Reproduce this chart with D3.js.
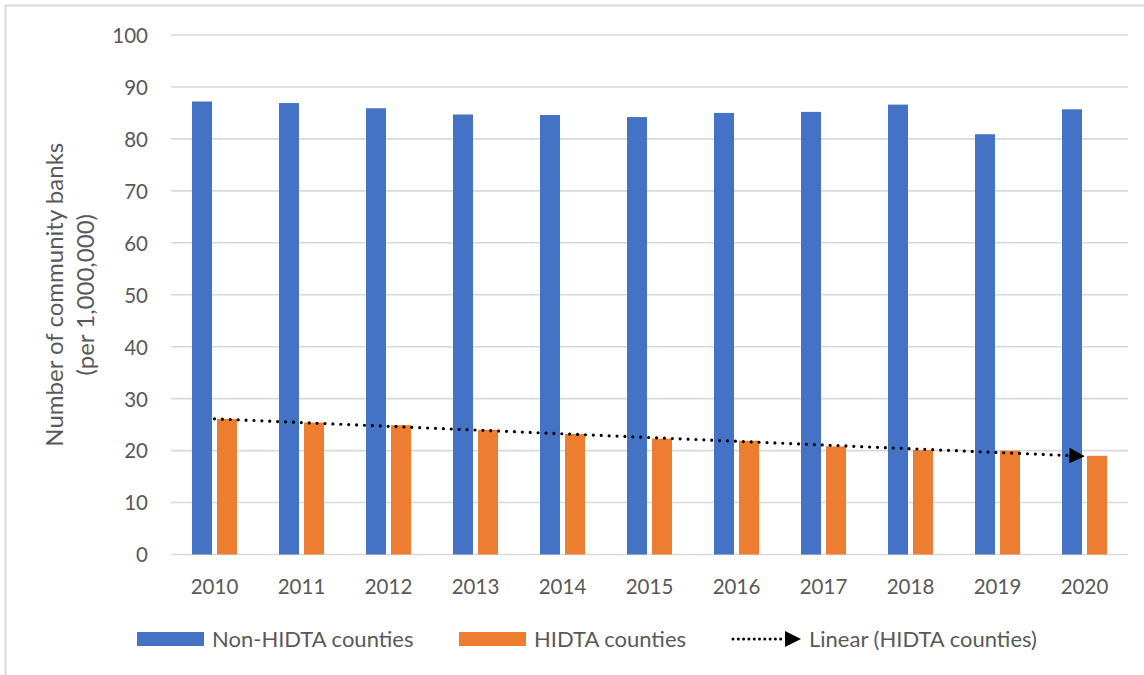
<!DOCTYPE html>
<html>
<head>
<meta charset="utf-8">
<script src="https://cdn.jsdelivr.net/npm/d3@7"></script>
<style>
  html, body { margin: 0; padding: 0; background: #fff; }
  svg { display: block; }
  text { font-family: Lato, "Open Sans", sans-serif; fill: #595959; }
</style>
</head>
<body>
<svg id="chart" width="1144" height="675"></svg>
<script>
// Community banks per 1,000,000 residents, by county type
const years = ["2010", "2011", "2012", "2013", "2014", "2015", "2016", "2017", "2018", "2019", "2020"];
const nonHidta = [87.2, 86.9, 85.9, 84.7, 84.6, 84.2, 85.0, 85.2, 86.6, 80.9, 85.7];
const hidta = [26.1, 25.4, 24.9, 24.0, 23.2, 22.3, 21.9, 20.8, 20.1, 20.0, 19.0];
const seriesNames = ["Non-HIDTA counties", "HIDTA counties"];
const trendName = "Linear (HIDTA counties)";
const yTicks = [0, 10, 20, 30, 40, 50, 60, 70, 80, 90, 100];

const colors = { "Non-HIDTA counties": "#4472C4", "HIDTA counties": "#ED7D31" };

const svg = d3.select("#chart");

// outer chart frame
svg.append("rect")
  .attr("x", 5.5).attr("y", 5.5)
  .attr("width", 1200).attr("height", 1000)
  .attr("fill", "none").attr("stroke", "#d9d9d9").attr("stroke-width", 2);

const plot = { left: 171, right: 1128, top: 35, bottom: 554.5 };

const x = d3.scaleBand().domain(years).range([plot.left, plot.right]).padding(0);
const y = d3.scaleLinear().domain([0, 100]).range([plot.bottom, plot.top]);
const groupWidth = 45;
const x1 = d3.scaleBand().domain(seriesNames).range([0, groupWidth]).paddingInner(0.2);

// horizontal gridlines
svg.append("g")
  .selectAll("line")
  .data(yTicks)
  .join("line")
  .attr("x1", plot.left).attr("x2", plot.right)
  .attr("y1", d => y(d)).attr("y2", d => y(d))
  .attr("stroke", "#d9d9d9").attr("stroke-width", 1.6);

// y-axis tick labels
const yAxis = d3.axisLeft(y).tickValues(yTicks).tickSize(0).tickPadding(0);
const yg = svg.append("g").attr("transform", `translate(148,0)`).call(yAxis);
yg.select(".domain").remove();
yg.selectAll("text")
  .attr("font-size", "20.5px")
  .attr("font-family", "Lato, sans-serif")
  .attr("fill", "#595959")
  .attr("dy", "0.36em");

// x-axis tick labels
const xAxis = d3.axisBottom(x).tickSize(0).tickPadding(0);
const xg = svg.append("g").attr("transform", `translate(0,${plot.bottom})`).call(xAxis);
xg.select(".domain").remove();
xg.selectAll("text")
  .attr("font-size", "20.5px")
  .attr("font-family", "Lato, sans-serif")
  .attr("fill", "#595959")
  .attr("y", 39).attr("dy", 0);

// grouped bars
const rows = years.map((yr, i) => ({ year: yr, values: [
  { key: seriesNames[0], value: nonHidta[i] },
  { key: seriesNames[1], value: hidta[i] }
]}));

const groups = svg.append("g")
  .selectAll("g")
  .data(rows)
  .join("g")
  .attr("transform", d => `translate(${x(d.year) + x.bandwidth() / 2 - groupWidth / 2},0)`);

groups.selectAll("rect")
  .data(d => d.values)
  .join("rect")
  .attr("x", d => x1(d.key))
  .attr("width", x1.bandwidth())
  .attr("y", d => y(d.value))
  .attr("height", d => y(0) - y(d.value))
  .attr("fill", d => colors[d.key]);

// least-squares trend of the HIDTA series
const idx = hidta.map((_, i) => i);
const mx = d3.mean(idx), my = d3.mean(hidta);
const slope = d3.sum(idx, i => (i - mx) * (hidta[i] - my)) / d3.sum(idx, i => (i - mx) ** 2);
const intercept = my - slope * mx;
const fit = i => intercept + slope * i;

const defs = svg.append("defs");
defs.append("marker")
  .attr("id", "arrow")
  .attr("viewBox", "0 0 10 10")
  .attr("refX", 10).attr("refY", 5)
  .attr("markerUnits", "userSpaceOnUse")
  .attr("markerWidth", 15).attr("markerHeight", 15)
  .attr("orient", "auto")
  .append("path")
  .attr("d", "M0,0 L10,5 L0,10 Z")
  .attr("fill", "#000");

const cx = yr => x(yr) + x.bandwidth() / 2;
const first = 0, last = years.length - 1;
const tx0 = cx(years[first]), ty0 = y(fit(first));
const tx1 = cx(years[last]), ty1 = y(fit(last));
const len = Math.hypot(tx1 - tx0, ty1 - ty0);
const ux = (tx1 - tx0) / len, uy = (ty1 - ty0) / len;

// dotted line stops at the arrow base, arrow head drawn to the end point
svg.append("line")
  .attr("x1", tx0).attr("y1", ty0)
  .attr("x2", tx1 - ux * 15).attr("y2", ty1 - uy * 15)
  .attr("stroke", "#000").attr("stroke-width", 3.2)
  .attr("stroke-linecap", "round")
  .attr("stroke-dasharray", "0 7.9");
svg.append("line")
  .attr("x1", tx1 - ux * 15).attr("y1", ty1 - uy * 15)
  .attr("x2", tx1).attr("y2", ty1)
  .attr("stroke", "none")
  .attr("marker-end", "url(#arrow)");
svg.append("path")
  .attr("d", `M${tx1 - ux * 15},${ty1 - uy * 15 - 7.5} L${tx1},${ty1} L${tx1 - ux * 15},${ty1 - uy * 15 + 7.5} Z`)
  .attr("fill", "#000");

// y-axis title
const title = svg.append("text")
  .attr("transform", `translate(0,${(plot.top + plot.bottom) / 2}) rotate(-90)`)
  .attr("text-anchor", "middle")
  .attr("font-size", "24px");
title.append("tspan").attr("x", 0).attr("y", 63).text("Number of community banks");
title.append("tspan").attr("x", 0).attr("y", 94).text("(per 1,000,000)");

// legend
const legend = svg.append("g");
const legendY = 639;
const swatches = [
  { key: seriesNames[0], x: 137, tx: 212 },
  { key: seriesNames[1], x: 459, tx: 534 }
];
legend.selectAll("rect")
  .data(swatches)
  .join("rect")
  .attr("x", d => d.x).attr("y", legendY - 7)
  .attr("width", 67).attr("height", 14)
  .attr("fill", d => colors[d.key]);
legend.selectAll("text.series")
  .data(swatches)
  .join("text")
  .attr("class", "series")
  .attr("x", d => d.tx).attr("y", legendY + 7.5)
  .attr("font-size", "22px")
  .text(d => d.key);

legend.append("line")
  .attr("x1", 733).attr("x2", 785)
  .attr("y1", legendY).attr("y2", legendY)
  .attr("stroke", "#000").attr("stroke-width", 3)
  .attr("stroke-linecap", "round")
  .attr("stroke-dasharray", "0 5.3");
legend.append("path")
  .attr("d", `M785,${legendY - 8} L801,${legendY} L785,${legendY + 8} Z`)
  .attr("fill", "#000");
legend.append("text")
  .attr("x", 809).attr("y", legendY + 7.5)
  .attr("font-size", "22px")
  .text(trendName);
</script>
</body>
</html>
